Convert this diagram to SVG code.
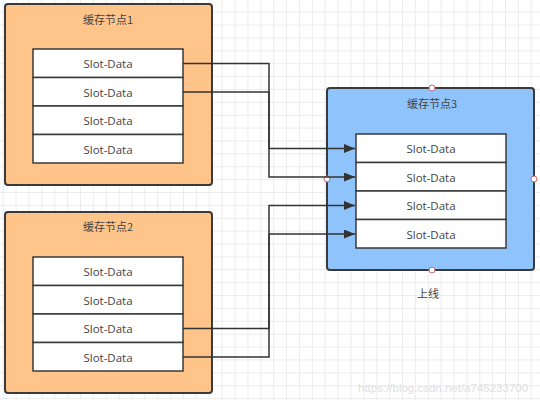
<svg xmlns="http://www.w3.org/2000/svg" width="540" height="408" viewBox="0 0 540 408">
  <defs>
    <pattern id="grid" x="2.7" y="-1.2" width="12.88" height="12.88" patternUnits="userSpaceOnUse">
      <path d="M0.5 0 V12.88 M0 0.5 H12.88" fill="none" stroke="#ececec" stroke-width="1"/>
    </pattern>
    <marker id="arrow" viewBox="0 0 11 9" refX="11" refY="4.5" markerWidth="11" markerHeight="9" markerUnits="userSpaceOnUse" orient="auto">
      <path d="M0 0 L11 4.5 L0 9 Z" fill="#333"/>
    </marker>
    <style>
      .outer1 { fill: #ffc48a; stroke: #3a3a3a; stroke-width: 2; }
      .outer3 { fill: #8fc3fb; stroke: #3a3a3a; stroke-width: 2; }
      .slot { fill: #ffffff; stroke: #3a3a3a; stroke-width: 1.5; }
      .t { font-family: "Open Sans", "Noto Sans", "Noto Sans CJK SC", sans-serif; font-size: 11.5px; fill: #444; text-anchor: middle; dominant-baseline: central; }
      .title { font-family: "Noto Sans CJK SC", sans-serif; font-size: 11px; fill: #444; text-anchor: middle; dominant-baseline: central; }
      .conn { fill: none; stroke: #333; stroke-width: 1.5; }
      .pt { fill: #fff; stroke: #c9696d; stroke-width: 1; }
      .wm { font-family: "Liberation Sans", sans-serif; font-size: 11.5px; fill: #e0e0e0; }
    </style>
  </defs>
  <rect width="540" height="408" fill="#fff"/>
  <rect x="0" y="0" width="540" height="400" fill="url(#grid)"/>

  <g id="node1">
    <rect class="outer1" x="5" y="4" width="207" height="181" rx="3"/>
    <text class="title" x="108" y="19">缓存节点1</text>
    <rect class="slot" x="33" y="49" width="150" height="28.5"/>
    <rect class="slot" x="33" y="77.5" width="150" height="28.5"/>
    <rect class="slot" x="33" y="106" width="150" height="28.5"/>
    <rect class="slot" x="33" y="134.5" width="150" height="28.5"/>
    <text class="t" x="108" y="63.5">Slot-Data</text>
    <text class="t" x="108" y="92">Slot-Data</text>
    <text class="t" x="108" y="120.5">Slot-Data</text>
    <text class="t" x="108" y="149">Slot-Data</text>
  </g>

  <g id="node2">
    <rect class="outer1" x="5" y="212" width="207" height="181" rx="3"/>
    <text class="title" x="108" y="226">缓存节点2</text>
    <rect class="slot" x="33" y="257" width="150" height="28.5"/>
    <rect class="slot" x="33" y="285.5" width="150" height="28.5"/>
    <rect class="slot" x="33" y="314" width="150" height="28.5"/>
    <rect class="slot" x="33" y="342.5" width="150" height="28.5"/>
    <text class="t" x="108" y="271.5">Slot-Data</text>
    <text class="t" x="108" y="300">Slot-Data</text>
    <text class="t" x="108" y="328.5">Slot-Data</text>
    <text class="t" x="108" y="357">Slot-Data</text>
  </g>

  <g id="node3">
    <rect class="outer3" x="327" y="88" width="207" height="182" rx="3"/>
    <text class="title" x="432" y="103">缓存节点3</text>
    <rect class="slot" x="356" y="134" width="150" height="28.5"/>
    <rect class="slot" x="356" y="162.5" width="150" height="28.5"/>
    <rect class="slot" x="356" y="191" width="150" height="28.5"/>
    <rect class="slot" x="356" y="219.5" width="150" height="28.5"/>
    <text class="t" x="431" y="148.5">Slot-Data</text>
    <text class="t" x="431" y="177">Slot-Data</text>
    <text class="t" x="431" y="205.5">Slot-Data</text>
    <text class="t" x="431" y="234">Slot-Data</text>
    <circle class="pt" cx="432" cy="88" r="3"/>
    <circle class="pt" cx="432" cy="270" r="3"/>
    <circle class="pt" cx="327" cy="179" r="3"/>
    <circle class="pt" cx="534" cy="179" r="3"/>
    <text class="title" x="428" y="293">上线</text>
  </g>

  <g id="connectors">
    <path class="conn" d="M183 63.5 H269 V148.5 H355" marker-end="url(#arrow)"/>
    <path class="conn" d="M183 92 H269 V177 H355" marker-end="url(#arrow)"/>
    <path class="conn" d="M183 328.5 H269 V205.5 H355" marker-end="url(#arrow)"/>
    <path class="conn" d="M183 357 H269 V234 H355" marker-end="url(#arrow)"/>
  </g>

  <text class="wm" x="358" y="392">https://blog.csdn.net/a745233700</text>
</svg>
